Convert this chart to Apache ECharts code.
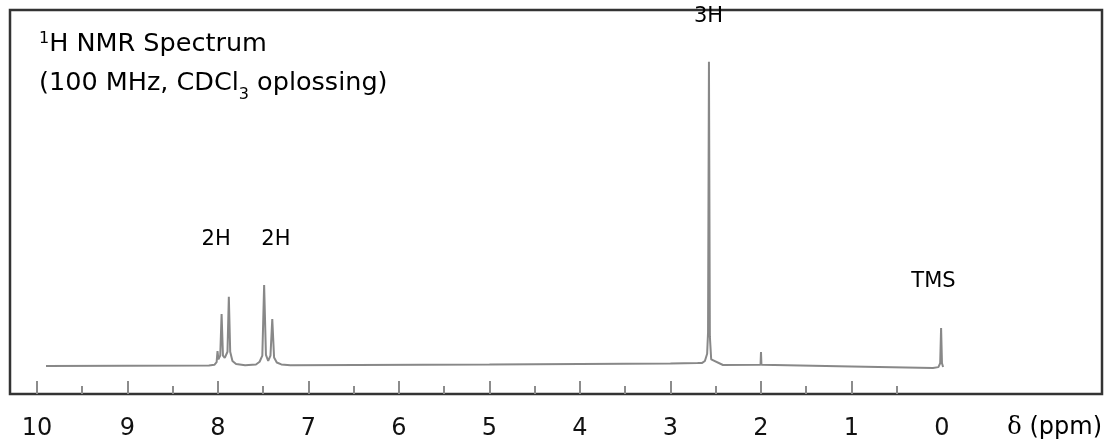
<!DOCTYPE html>
<html>
<head>
<meta charset="utf-8">
<script src="https://cdn.jsdelivr.net/npm/echarts@6/dist/echarts.min.js"></script>
<style>
html,body{margin:0;padding:0;background:#fff;}
#chart{width:1108px;height:448px;}
</style>
</head>
<body>
<div id="chart"></div>
<script>
// Spectrum trace: chemical shift (ppm) and relative intensity
var spectrumPpm = [
  9.90, 8.10, 8.04, 8.015, 8.005, 7.995, 7.975, 7.96, 7.945, 7.925, 7.895, 7.88, 7.865, 7.84, 7.80, 7.70,
  7.58, 7.54, 7.51, 7.49, 7.47, 7.445, 7.42, 7.40, 7.38, 7.35, 7.30, 7.20,
  5.00, 3.00, 2.70, 2.65, 2.62, 2.595, 2.585, 2.575, 2.565, 2.55, 2.53, 2.42,
  2.005, 2.000, 1.995, 1.00, 0.10, 0.04, 0.02, 0.01, 0.00, -0.012
];
var spectrumIntensity = [
  7.29, 7.42, 7.6, 8.3, 11.2, 9.0, 10.0, 20.8, 10.0, 9.4, 11.0, 25.3, 11.0, 8.6, 7.8, 7.5,
  7.7, 8.4, 10.0, 28.4, 10.2, 8.6, 10.0, 19.5, 9.5, 8.2, 7.7, 7.5,
  7.68, 7.94, 8.07, 8.1, 8.6, 10.5, 16, 86.5, 15, 9.0, 8.6, 7.55,
  7.6, 10.9, 7.6, 7.16, 6.77, 7.0, 8.0, 17.2, 8.0, 7.03
];

// Axis ticks and labels
var majorTicks = [10, 9, 8, 7, 6, 5, 4, 3, 2, 1];
var minorTicks = [9.5, 8.5, 7.5, 6.5, 5.5, 4.5, 3.5, 2.5, 1.5, 0.5];
var tickLabels = [10, 9, 8, 7, 6, 5, 4, 3, 2, 1, 0];

// Peak annotations
var annotationLabels = ['3H', '2H', '2H', 'TMS'];
var annotationPpm = [2.58, 8.02, 7.36, 0.094];
var annotationHeight = [98.2, 40.1, 40.1, 29.4];

var FONT = '"DejaVu Sans", sans-serif';

var spectrumData = spectrumPpm.map(function (p, i) { return [p, spectrumIntensity[i]]; });
var annotationData = annotationLabels.map(function (t, i) {
  return { name: t, value: [annotationPpm[i], annotationHeight[i]] };
});

var chart = echarts.init(document.getElementById('chart'), null, { renderer: 'canvas' });
var xMin = -1.768, xMax = 10.298;
chart.setOption({
  animation: false,
  backgroundColor: '#ffffff',
  grid: {
    left: 10, right: 6, top: 10, bottom: 54,
    show: true, borderColor: '#333333', borderWidth: 2.5, backgroundColor: 'transparent'
  },
  xAxis: [
    {
      type: 'value', min: xMin, max: xMax, inverse: true, position: 'bottom',
      axisLine: { show: false },
      splitLine: { show: false },
      axisTick: { show: true, inside: true, length: 13, customValues: majorTicks,
        lineStyle: { color: '#8c8c8c', width: 2 } },
      axisLabel: { show: true, customValues: tickLabels, margin: 23,
        fontFamily: FONT, fontSize: 24, color: '#111111' }
    },
    {
      type: 'value', min: xMin, max: xMax, inverse: true, position: 'bottom',
      axisLine: { show: false },
      splitLine: { show: false },
      axisTick: { show: true, inside: true, length: 8, customValues: minorTicks,
        lineStyle: { color: '#8c8c8c', width: 2 } },
      axisLabel: { show: false }
    }
  ],
  yAxis: { type: 'value', min: 0, max: 100, show: false, splitLine: { show: false } },
  series: [
    {
      type: 'line', data: spectrumData, showSymbol: false, smooth: false,
      lineStyle: { color: '#888888', width: 2 }, silent: true, z: 3
    },
    {
      type: 'scatter', data: annotationData, symbolSize: 0, silent: true,
      itemStyle: { opacity: 1 },
      label: { show: true, position: 'inside', formatter: '{b}',
        fontFamily: FONT, fontSize: 21, color: '#000000', opacity: 1 }
    }
  ],
  graphic: [
    {
      type: 'text', left: 39, top: 31,
      style: {
        text: '{s|1}{n|H NMR Spectrum}\n{n|(100 MHz, CDCl}{b|3}{n| oplossing)}',
        rich: {
          n: { fontFamily: FONT, fontSize: 25.5, lineHeight: 39, fill: '#000000' },
          s: { fontFamily: FONT, fontSize: 16, verticalAlign: 'top', padding: [6, 0, 0, 0], fill: '#000000' },
          b: { fontFamily: FONT, fontSize: 16, lineHeight: 16, verticalAlign: 'bottom', fill: '#000000' }
        }
      }
    },
    {
      type: 'text', right: 6, top: 416,
      style: {
        text: '{d|δ}{t| (ppm)}',
        rich: {
          d: { fontFamily: '"DejaVu Serif", serif', fontSize: 24, fill: '#000000' },
          t: { fontFamily: FONT, fontSize: 24, fill: '#000000' }
        }
      }
    }
  ]
});
</script>
</body>
</html>
